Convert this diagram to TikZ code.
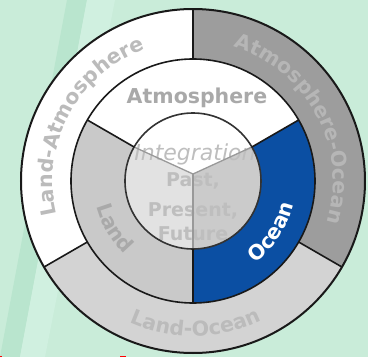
\documentclass[tikz,border=0pt]{standalone}
\usepackage{fontspec}
\setmainfont{DejaVu Sans}
\usepackage{xcolor}
\usetikzlibrary{decorations.text, positioning}

\definecolor{mint}{HTML}{C9ECD9}
\definecolor{mintdark}{HTML}{B9E5CE}
\definecolor{mintlight}{HTML}{D0F0E0}
\definecolor{ringgray}{HTML}{9D9D9D}
\definecolor{ringlight}{HTML}{D3D3D3}
\definecolor{landgray}{HTML}{C9C9C9}
\definecolor{oceanblue}{HTML}{0B4FA3}
\definecolor{coreleft}{HTML}{E2E2E2}
\definecolor{coreright}{HTML}{CBCBCB}
\definecolor{outertext}{HTML}{BBBBBB}
\definecolor{aotext}{HTML}{B6B6B6}
\definecolor{midtext}{HTML}{A9A9A9}
\definecolor{coretextgray}{HTML}{BEBEBE}

\newcommand{\ringfont}{\fontsize{20.5}{22}\selectfont\bfseries}
\newcommand{\corefont}{\fontsize{19}{22}\selectfont\bfseries}

\begin{document}
\begin{tikzpicture}[x=1pt, y=1pt,
    divider/.style={line width=1.6pt, draw=black!90},
    hubline/.style={line width=1.3pt, draw=black!40},
    coretext/.style={font=\corefont, text=coretextgray, inner sep=0pt, anchor=base}]

    % Canvas and background bands
    \useasboundingbox (-193,-176) rectangle (175,181);
    \fill[mint] (-193,-176) rectangle (175,181);
    \fill[mintdark] (-126,181) -- (-106,181) -- (-173,-176) -- (-193,-176) -- cycle;
    \fill[mintlight] (-106,181) -- (-78,181) -- (-148,-176) -- (-173,-176) -- cycle;

    % Outer ring sectors
    \foreach \a/\b/\col in {90/210/white, 210/330/ringlight, -30/90/ringgray}
        \fill[\col] (\a:172) arc[start angle=\a, end angle=\b, radius=172]
            -- (\b:122) arc[start angle=\b, end angle=\a, radius=122] -- cycle;

    % Middle ring sectors
    \foreach \a/\b/\col in {30/150/white, 150/270/landgray, 270/390/oceanblue}
        \fill[\col] (\a:122) arc[start angle=\a, end angle=\b, radius=122]
            -- (\b:68) arc[start angle=\b, end angle=\a, radius=68] -- cycle;

    % Core sectors
    \coordinate (hub) at (0,7);
    \fill[white] (30:68) arc[start angle=30, end angle=150, radius=68] -- (hub) -- cycle;
    \fill[coreleft] (150:68) arc[start angle=150, end angle=270, radius=68] -- (hub) -- cycle;
    \fill[coreright] (270:68) arc[start angle=270, end angle=390, radius=68] -- (hub) -- cycle;

    % Core text
    \node[coretext, font=\fontsize{22}{24}\selectfont\itshape] (integ) at (2,21) {Integration};
    \node[coretext] (past) at (0,-5) {Past,};
    \node[coretext] (present) at (0,-35) {Present,};
    \node[coretext] (future) at (0,-59) {Future};

    % Core dividers
    \draw[hubline] (30:68) -- (hub) -- (150:68);
    \draw[hubline] (hub) -- (270:68);

    % Circles and ring dividers
    \draw[divider, draw=black!80] (0,0) circle[radius=68];
    \draw[divider] (0,0) circle[radius=122];
    \draw[divider, line width=2pt] (0,0) circle[radius=172];
    \foreach \a in {90,210,330}
        \draw[divider] (\a:122) -- (\a:172);
    \foreach \a in {30,150,270}
        \draw[divider] (\a:68) -- (\a:122);

    % Outer ring labels
    \path[decorate, decoration={text along path, text align=center,
        text={|\ringfont\color{outertext}|Land-Atmosphere}}]
        (212:140) arc[start angle=212, end angle=92, radius=140];
    \path[decorate, decoration={text along path, text align=center,
        text={|\ringfont\color{aotext}|Atmosphere-Ocean}}]
        (88:140) arc[start angle=88, end angle=-32, radius=140];
    \path[decorate, decoration={text along path, text align=center,
        text={|\ringfont\color{outertext}|Land-Ocean}}]
        (211:155) arc[start angle=211, end angle=331, radius=155];

    % Middle ring labels
    \node[font=\ringfont, text=midtext, inner sep=0pt, anchor=base] (atmos) at (4,78) {Atmosphere};
    \path[decorate, decoration={text along path, text align=center,
        text={|\ringfont\color{midtext}|Land}}]
        (151:100) arc[start angle=151, end angle=271, radius=100];
    \path[decorate, decoration={text along path, text align=center,
        text={|\ringfont\color{white}|Ocean}}]
        (267:103) arc[start angle=267, end angle=387, radius=103];

    % Red marks
    \fill[red] (-193,-176) rectangle (-191,-175);
    \fill[red] (-73,-176) rectangle (-67,-175);

\end{tikzpicture}
\end{document}
